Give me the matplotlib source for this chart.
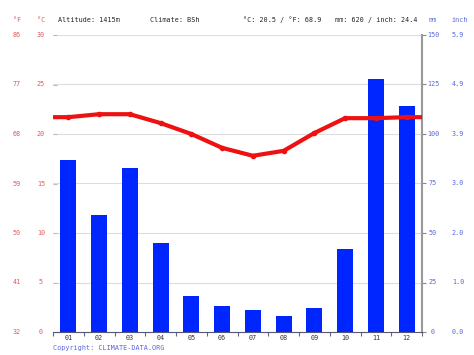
import matplotlib
matplotlib.use('Agg')
import matplotlib.pyplot as plt
import numpy as np

months = ['01', '02', '03', '04', '05', '06', '07', '08', '09', '10', '11', '12']
temp_c = [21.7, 22.0, 22.0, 21.1, 20.0, 18.6, 17.8, 18.3, 20.1, 21.6, 21.6, 21.7]
precip_mm = [87, 59, 83, 45, 18, 13, 11, 8, 12, 42, 128, 114]

c_ticks = [0, 5, 10, 15, 20, 25, 30]
f_labels = ['32', '41', '50', '59', '68', '77', '86']
mm_ticks = [0, 25, 50, 75, 100, 125, 150]
inch_labels = ['0.0', '1.0', '2.0', '3.0', '3.9', '4.9', '5.9']

red = '#ee1111'
lred = '#e05a5a'
blue = '#0026ff'
lblue = '#5566dd'
mono = 'DejaVu Sans Mono'
fs = 4.9

fig = plt.figure(figsize=(4.74, 3.55), dpi=100)
ax = fig.add_axes([53/474, 1 - 332/355, 369/474, 297/355])
ax2 = ax.twinx()

x = np.arange(12) + 0.5
ax2.bar(x, precip_mm, width=0.52, color=blue, zorder=2)
ax2.set_ylim(0, 150)

# temperature line runs to the plot edges
tx = np.concatenate([[0], x, [12]])
ty = np.concatenate([[temp_c[0]], temp_c, [temp_c[-1]]])
ax.plot(tx, ty, color=red, lw=3, zorder=5)
ax.plot(x, temp_c, 'o', color=red, ms=3, zorder=6)
ax.set_ylim(0, 30)
ax.set_xlim(0, 12)

ax.set_zorder(ax2.get_zorder() + 1)
ax.patch.set_visible(False)

for c in c_ticks[1:]:
    ax2.axhline(c * 5, color='#dddddd', lw=0.8, zorder=0)

ax.set_yticks(c_ticks)
ax.set_yticklabels([])
ax.tick_params(axis='y', length=3, color='#bbbbbb', direction='in')
ax.set_xticks(np.arange(13))
ax.set_xticklabels([])
ax.tick_params(axis='x', length=3, color='#666688')
for xi, m in zip(x, months):
    ax.text(xi, -0.6, m, ha='center', va='center', fontsize=fs, family=mono, color='#333333')

for c, f in zip(c_ticks, f_labels):
    ax.text(-12/369*12, c, str(c), ha='center', va='center',
            fontsize=fs, family=mono, color=lred)
    ax.text(-36/369*12, c, f, ha='center', va='center', fontsize=fs, family=mono, color=lred)

ax2.set_yticks(mm_ticks)
ax2.set_yticklabels([])
ax2.tick_params(axis='y', length=3, color='#888888', direction='out')
for m, inch in zip(mm_ticks, inch_labels):
    ax2.text(12 + 11/369*12, m, str(m), ha='center', va='center', fontsize=fs, family=mono, color=lblue)
    ax2.text(12 + 36/369*12, m, inch, ha='center', va='center', fontsize=fs, family=mono, color=lblue)

for a in (ax, ax2):
    a.spines['top'].set_visible(False)
    a.spines['left'].set_visible(False)
    a.spines['right'].set_visible(False)
ax.spines['bottom'].set_color('#555577')
ax2.spines['bottom'].set_visible(False)
ax2.spines['right'].set_visible(True)
ax2.spines['right'].set_color('#999999')
ax2.spines['right'].set_linewidth(1.5)
ax2.set_ylim(0, 150)
ax.set_ylim(0, 30)

hy = 1 - 20/355
fig.text(17/474, hy, '°F', ha='center', va='center', fontsize=fs, family=mono, color=lred)
fig.text(41/474, hy, '°C', ha='center', va='center', fontsize=fs, family=mono, color=lred)
fig.text(58/474, hy, 'Altitude: 1415m', ha='left', va='center', fontsize=fs, family=mono, color='#222222')
fig.text(150/474, hy, 'Climate: BSh', ha='left', va='center', fontsize=fs, family=mono, color='#222222')
fig.text(243/474, hy, '°C: 20.5 / °F: 68.9', ha='left', va='center', fontsize=fs, family=mono, color='#222222')
fig.text(335/474, hy, 'mm: 620 / inch: 24.4', ha='left', va='center', fontsize=fs, family=mono, color='#222222')
fig.text(433/474, hy, 'mm', ha='center', va='center', fontsize=fs, family=mono, color=lblue)
fig.text(460/474, hy, 'inch', ha='center', va='center', fontsize=fs, family=mono, color=lblue)
fig.text(53/474, 1 - 348/355, 'Copyright: CLIMATE-DATA.ORG', ha='left', va='center',
         fontsize=fs, family=mono, color=lblue)

fig.savefig('out.png', dpi=100)
